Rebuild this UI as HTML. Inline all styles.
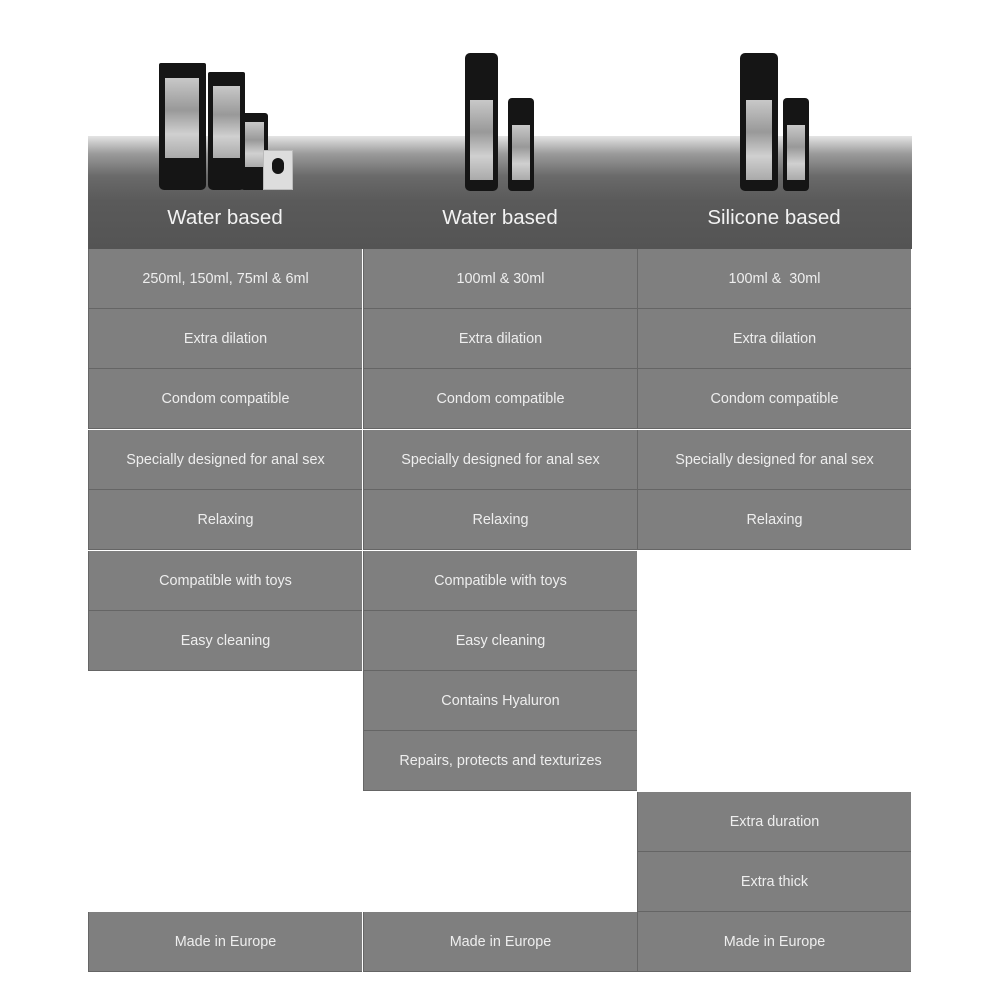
<!DOCTYPE html>
<html><head><meta charset="utf-8"><style>
html,body{margin:0;padding:0;background:#fff;width:1000px;height:1000px;overflow:hidden;position:relative;font-family:"Liberation Sans",Arial,sans-serif}
.hdr{position:absolute;left:88px;top:136px;width:824px;height:113px;background:linear-gradient(#e4e4e4 0px,#9a9a9a 18px,#6a6a6a 40px,#5a5a5a 65px,#545454 113px)}
.ht{position:absolute;top:206px;width:274px;text-align:center;color:#f2f2f2;font-size:20.5px}
.c{position:absolute;width:273px;height:59px;background:#7f7f7f;border-left:1px solid #666;border-bottom:1px solid #656565;color:#eee;font-size:14.4px;display:flex;align-items:center;justify-content:center;box-sizing:content-box}
.p{position:absolute;background:#151515;border-radius:3px}
.lab{position:absolute;background:linear-gradient(#c8c8c8,#999 40%,#d0d0d0 70%,#aaa)}
</style></head><body>
<div class="hdr"></div>
<div class="p" style="left:159px;top:63px;width:47px;height:127px;border-radius:2px 2px 5px 5px"></div>
<div class="lab" style="left:165px;top:78px;width:34px;height:80px"></div>
<div class="p" style="left:208px;top:72px;width:37px;height:118px;border-radius:2px 2px 5px 5px"></div>
<div class="lab" style="left:213px;top:86px;width:27px;height:72px"></div>
<div class="p" style="left:241px;top:113px;width:27px;height:77px"></div>
<div class="lab" style="left:245px;top:122px;width:19px;height:45px"></div>
<div style="position:absolute;left:263px;top:150px;width:28px;height:38px;background:#ddd;border:1px solid #bbb"></div>
<div class="p" style="left:272px;top:158px;width:12px;height:16px;border-radius:6px"></div>
<div class="p" style="left:465px;top:53px;width:33px;height:138px;border-radius:5px"></div>
<div class="lab" style="left:470px;top:100px;width:23px;height:80px"></div>
<div class="p" style="left:508px;top:98px;width:26px;height:93px;border-radius:4px"></div>
<div class="lab" style="left:512px;top:125px;width:18px;height:55px"></div>
<div class="p" style="left:740px;top:53px;width:38px;height:138px;border-radius:5px"></div>
<div class="lab" style="left:746px;top:100px;width:26px;height:80px"></div>
<div class="p" style="left:783px;top:98px;width:26px;height:93px;border-radius:4px"></div>
<div class="lab" style="left:787px;top:125px;width:18px;height:55px"></div>

<div class="ht" style="left:88px">Water based</div>
<div class="ht" style="left:363px">Water based</div>
<div class="ht" style="left:637px">Silicone based</div>

<div class="c" style="left:88px;top:249px">250ml, 150ml, 75ml &amp; 6ml</div>
<div class="c" style="left:88px;top:309px">Extra dilation</div>
<div class="c" style="left:88px;top:369px">Condom compatible</div>
<div class="c" style="left:88px;top:430px">Specially designed for anal sex</div>
<div class="c" style="left:88px;top:490px">Relaxing</div>
<div class="c" style="left:88px;top:551px">Compatible with toys</div>
<div class="c" style="left:88px;top:611px">Easy cleaning</div>
<div class="c" style="left:88px;top:912px">Made in Europe</div>
<div class="c" style="left:363px;top:249px">100ml &amp; 30ml</div>
<div class="c" style="left:363px;top:309px">Extra dilation</div>
<div class="c" style="left:363px;top:369px">Condom compatible</div>
<div class="c" style="left:363px;top:430px">Specially designed for anal sex</div>
<div class="c" style="left:363px;top:490px">Relaxing</div>
<div class="c" style="left:363px;top:551px">Compatible with toys</div>
<div class="c" style="left:363px;top:611px">Easy cleaning</div>
<div class="c" style="left:363px;top:671px">Contains Hyaluron</div>
<div class="c" style="left:363px;top:731px">Repairs, protects and texturizes</div>
<div class="c" style="left:363px;top:912px">Made in Europe</div>
<div class="c" style="left:637px;top:249px">100ml &amp;&nbsp; 30ml</div>
<div class="c" style="left:637px;top:309px">Extra dilation</div>
<div class="c" style="left:637px;top:369px">Condom compatible</div>
<div class="c" style="left:637px;top:430px">Specially designed for anal sex</div>
<div class="c" style="left:637px;top:490px">Relaxing</div>
<div class="c" style="left:637px;top:792px">Extra duration</div>
<div class="c" style="left:637px;top:852px">Extra thick</div>
<div class="c" style="left:637px;top:912px">Made in Europe</div>
</body></html>
